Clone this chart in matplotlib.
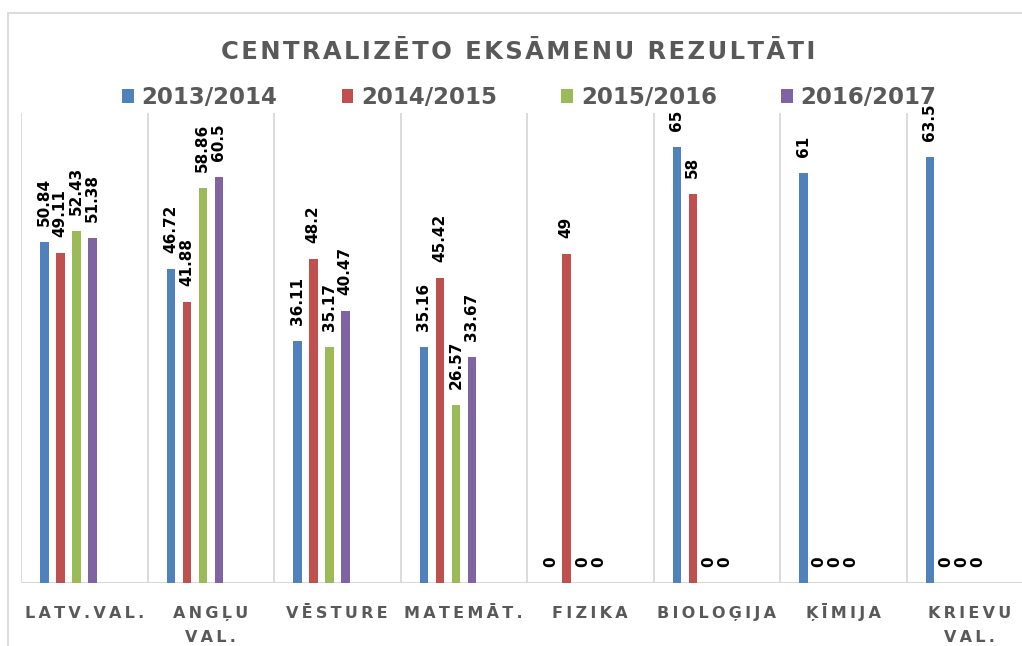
import matplotlib.pyplot as plt
from matplotlib.patches import Patch, Rectangle

# Data
subjects = [["LATV.VAL."], ["ANGĻU", "VAL."], ["VĒSTURE"], ["MATEMĀT."],
            ["FIZIKA"], ["BIOLOĢIJA"], ["ĶĪMIJA"], ["KRIEVU", "VAL."]]
years = ["2013/2014", "2014/2015", "2015/2016", "2016/2017"]
y2013 = [50.84, 46.72, 36.11, 35.16, 0, 65, 61, 63.5]
y2014 = [49.11, 41.88, 48.2, 45.42, 49, 58, 0, 0]
y2015 = [52.43, 58.86, 35.17, 26.57, 0, 0, 0, 0]
y2016 = [51.38, 60.5, 40.47, 33.67, 0, 0, 0, 0]
series = [y2013, y2014, y2015, y2016]
colors = ["#4F81BD", "#C0504D", "#9BBB59", "#8064A2"]

GRAY = "#595959"
LINE = "#d9d9d9"


def spaced(text, sep="\u2009"):
    # fake letter spacing
    return sep.join(text)


fig = plt.figure(figsize=(10.22, 6.46), dpi=100)
ax = fig.add_axes([21 / 1022, 63 / 646, 1012 / 1022, 470 / 646])

slot = 16 / 126.5
width = 8.5 / 126.5
for i, (vals, col) in enumerate(zip(series, colors)):
    xs = [k + 0.5 + (i - 2.5) * slot for k in range(len(vals))]
    ax.bar(xs, vals, width=width, color=col, zorder=3)
    for x, v in zip(xs, vals):
        ax.annotate(f"{v:g}", (x, v), xytext=(0, 11.5), textcoords="offset points",
                    rotation=90, ha="center", va="bottom", fontsize=11,
                    fontweight="bold", color="black", annotation_clip=False)

ax.set_xlim(0, len(subjects))
ax.set_ylim(0, 70)
for k in range(len(subjects) + 1):
    ax.axvline(k, color=LINE, lw=1.3, zorder=1)
ax.axhline(0, color=LINE, lw=1.5, zorder=2)
for s in ax.spines.values():
    s.set_visible(False)
ax.set_yticks([])
ax.set_xticks([])

# category labels, one text per line so baselines line up
for k, lab in enumerate(subjects):
    for j, line in enumerate(lab):
        ax.annotate(spaced(line), (k + 0.5, 0), xycoords=("data", "axes fraction"),
                    xytext=(0, -25.2 - 17.5 * j), textcoords="offset points",
                    ha="center", va="baseline", fontsize=11.5, fontweight="bold",
                    color=GRAY, annotation_clip=False)

fig.text(0.507, 1 - 52 / 646, spaced("CENTRALIZĒTO EKSĀMENU REZULTĀTI", "\u200a"),
         ha="center", va="center", fontsize=17.5, fontweight="bold", color=GRAY)

handles = [Patch(facecolor=c) for c in colors]
leg = fig.legend(handles, years, loc="center", bbox_to_anchor=(0.518, 1 - 98 / 646),
                 ncol=4, frameon=False, handlelength=0.5, handleheight=0.55,
                 handletextpad=0.35, columnspacing=2.8,
                 prop={"size": 16.5, "weight": "bold"})
for t in leg.get_texts():
    t.set_color(GRAY)

fig.add_artist(Rectangle((8 / 1022, -0.1), 1.2, (646 - 13) / 646 + 0.1,
                         transform=fig.transFigure, fill=False, ec=LINE, lw=1.3))

fig.savefig("out.png", dpi=100, facecolor="white")
